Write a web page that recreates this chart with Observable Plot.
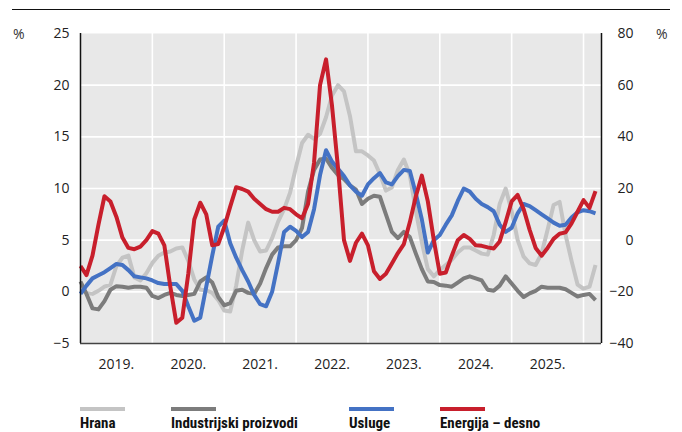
<!DOCTYPE html>
<html>
<head>
<meta charset="utf-8">
<script src="https://cdn.jsdelivr.net/npm/d3@7"></script>
<script src="https://cdn.jsdelivr.net/npm/@observablehq/plot@0.6"></script>
<style>
  body { margin: 0; background: #fff; }
  #wrap { position: relative; width: 682px; height: 432px; overflow: hidden; font-family: "Open Sans", "Liberation Sans", sans-serif; color: #222; }
  #chart { position: absolute; left: 0; top: 0; }
  .toprule { position: absolute; left: 12px; top: 9px; width: 658px; height: 1.3px; background: #111; }
  .pct { position: absolute; font-size: 14px; line-height: 14px; color: #333; }
  .sw { position: absolute; top: 407px; width: 45px; height: 4px; }
  .lt { position: absolute; top: 414px; font-family: "Liberation Sans Narrow", "Roboto Condensed", "DejaVu Sans Condensed", sans-serif; font-stretch: condensed; font-weight: bold; font-size: 15px; line-height: 18px; color: #111; white-space: nowrap; }
</style>
</head>
<body>
<div id="wrap">
  <div class="toprule"></div>
  <div class="pct" style="left:13px;top:27px;">%</div>
  <div class="pct" style="left:656px;top:27px;">%</div>
  <div id="chart"></div>
</div>
<script>
// Month index 0 = Jan 2019
const seriesNames = ["Hrana", "Industrijski proizvodi", "Usluge", "Energija – desno"];
const seriesColors = ["#c4c4c4", "#7c7c7c", "#4472c4", "#c81f2c"];
const yearLabels = ["2019.", "2020.", "2021.", "2022.", "2023.", "2024.", "2025."];
const leftTicks = [-5, 0, 5, 10, 15, 20, 25];
const rightTicks = [-40, -20, 0, 20, 40, 60, 80];

// Left axis (%)
const hrana = [
  0.2,-0.1,-0.2,0.1,0.5,0.7,2.5,3.3,3.5,1.4,
  1.1,1.8,2.8,3.5,3.8,3.9,4.2,4.3,3.0,1.2,
  0.2,0.15,-0.1,-0.8,-1.8,-1.9,0.6,4.0,6.7,5.0,
  3.9,4.0,5.2,6.8,8.0,9.6,12.1,14.4,15.2,14.8,
  15.3,16.9,19.0,20.0,19.4,17.0,13.6,13.6,13.2,12.7,
  11.4,9.8,10.1,11.8,12.8,11.3,7.8,4.8,2.2,1.5,
  2.1,2.6,3.1,3.8,4.3,4.3,4.0,3.7,3.6,5.5,
  8.5,10.0,7.8,5.0,3.4,2.75,2.6,3.7,6.0,8.4,
  8.7,5.5,3.0,0.7,0.3,0.5,2.6
];
const industrijski = [
  1.0,-0.2,-1.6,-1.7,-0.9,0.2,0.55,0.5,0.4,0.5,
  0.5,0.4,-0.4,-0.6,-0.3,-0.1,-0.3,-0.4,-0.3,-0.2,
  1.0,1.4,0.9,-0.5,-1.3,-1.1,0.1,0.2,-0.1,-0.2,
  0.8,2.3,3.6,4.3,4.4,4.4,5.0,6.2,9.7,11.8,
  12.8,12.9,12.0,11.3,10.9,10.3,9.9,8.5,9.0,9.3,
  9.2,7.5,5.8,5.2,5.8,5.3,3.7,2.2,1.0,0.95,
  0.65,0.6,0.5,0.9,1.3,1.5,1.3,1.1,0.2,0.1,
  0.6,1.5,0.8,0.1,-0.5,-0.15,0.1,0.5,0.4,0.4,
  0.4,0.25,-0.1,-0.45,-0.3,-0.2,-0.8
];
const usluge = [
  -0.2,0.6,1.3,1.6,1.9,2.3,2.7,2.6,2.1,1.5,
  1.4,1.3,1.1,0.85,0.75,0.75,0.75,0.1,-1.4,-2.8,
  -2.5,0.5,3.5,6.3,6.9,4.7,3.3,2.1,1.0,-0.3,
  -1.2,-1.4,0.0,2.8,5.8,6.3,5.9,5.3,5.8,8.0,
  11.3,13.7,12.6,11.9,11.2,10.3,9.7,9.3,10.4,11.0,
  11.5,10.6,10.4,11.2,11.8,11.7,9.5,7.0,3.8,5.0,
  5.5,6.5,7.4,8.8,10.0,9.7,9.0,8.5,8.2,7.8,
  6.5,5.8,6.2,7.6,8.5,8.3,7.9,7.5,7.1,6.7,
  6.4,6.5,7.2,7.7,7.9,7.8,7.6
];
// Right axis (%)
const energija = [
  -10,-13.5,-6,6,17,15,9,1,-3,-3.5,
  -2.5,0,3.5,2.5,-2,-18,-32,-30,-13,8,
  14.5,10,-2,-1.5,5,13,20.5,19.8,18.8,16,
  14,12,11,11,12.5,12,10,8.5,14,30,
  60,70,52,28,0,-8,-1,2.5,-2,-12,
  -15,-13,-9,-5,-1.5,7,17,25,15,0,
  -13,-12.5,-6,0,2,0.5,-2,-2.2,-2.8,-3.2,
  -0.5,7,15,17.5,12,4,-3,-6,-3,0.5,
  2.5,3,6.5,11,15.5,12.5,19
];

// right value r maps onto left scale as r/4 + 5
const toLeft = r => r / 4 + 5;
const fmt = d => d < 0 ? "\u2212" + Math.abs(d) : String(d);

const data = [];
[[hrana, 0], [industrijski, 1], [usluge, 2]].forEach(([arr, k]) => {
  arr.forEach((v, i) => data.push({s: seriesNames[k], i, v}));
});
energija.forEach((r, i) => data.push({s: seriesNames[3], i, v: toLeft(r)}));

const gridX = yearLabels.map((_, k) => 12 * (k + 1));
const yearTicks = yearLabels.map((_, k) => 12 * k + 6);

const chart = Plot.plot({
  width: 682,
  height: 385,
  marginTop: 33,
  marginBottom: 42,
  marginLeft: 80,
  marginRight: 81,
  style: {fontFamily: "'Open Sans', 'Liberation Sans', sans-serif", fontSize: "14px", color: "#222", background: "transparent", overflow: "visible"},
  x: {domain: [0, 87], axis: null},
  y: {domain: [-5, 25], axis: null},
  color: {domain: seriesNames, range: seriesColors},
  marks: [
    Plot.frame({fill: "#e8e8e8", stroke: null}),
    Plot.ruleY(leftTicks.filter(d => d > -5 && d < 25), {stroke: "#fff", strokeWidth: 1.6}),
    Plot.ruleX(gridX, {stroke: "#fff", strokeWidth: 1.6}),
    Plot.line(data, {x: "i", y: "v", z: "s", stroke: "s", strokeWidth: 4, strokeLinejoin: "round", strokeLinecap: "butt"}),
    Plot.axisY({anchor: "left", ticks: leftTicks, tickSize: 0, tickPadding: 11, tickFormat: fmt, label: null}),
    Plot.axisY({anchor: "right", ticks: rightTicks.map(toLeft), tickSize: 0, tickPadding: 32, textAnchor: "end", tickFormat: d => fmt(Math.round((d - 5) * 4)), label: null}),
    Plot.axisX({ticks: yearTicks, tickSize: 0, tickPadding: 16, tickFormat: d => yearLabels[(d - 6) / 12], label: null}),
    Plot.ruleX([0], {stroke: "#111", strokeWidth: 1.5}),
    Plot.ruleX([87], {stroke: "#111", strokeWidth: 1.5}),
    Plot.ruleY([-5], {stroke: "#444", strokeWidth: 1.5})
  ]
});
document.getElementById("chart").appendChild(chart);

// Legend
const wrap = document.getElementById("wrap");
const legendX = [80, 171, 349, 440];
seriesNames.forEach((name, k) => {
  const sw = document.createElement("div");
  sw.className = "sw";
  sw.style.left = legendX[k] + "px";
  sw.style.background = seriesColors[k];
  wrap.appendChild(sw);
  const t = document.createElement("div");
  t.className = "lt";
  t.style.left = legendX[k] + "px";
  t.textContent = name;
  wrap.appendChild(t);
});
</script>
</body>
</html>
